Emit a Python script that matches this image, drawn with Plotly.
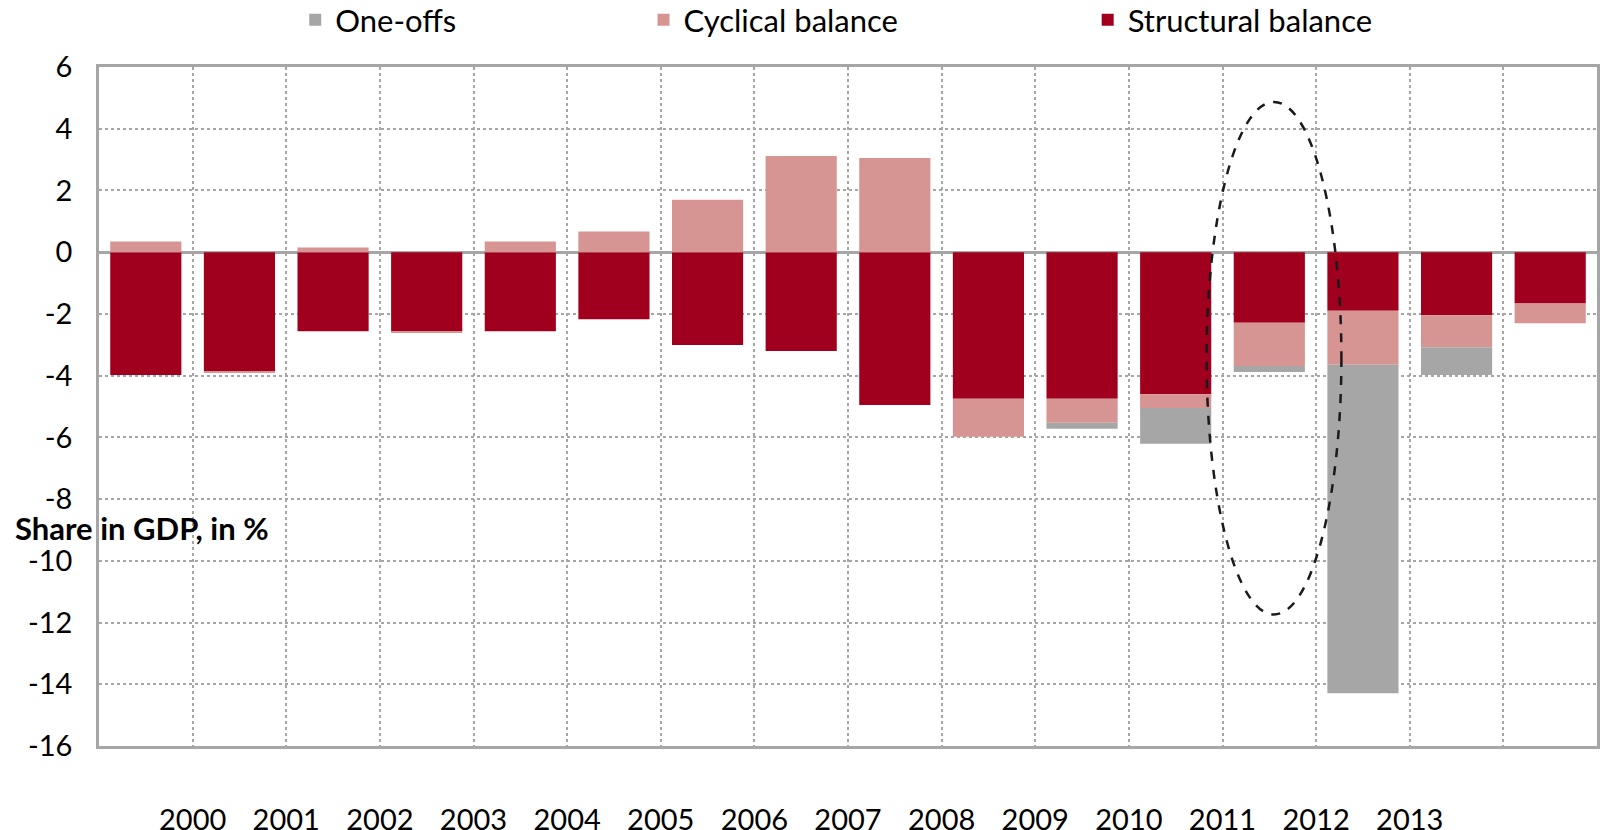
import plotly.graph_objects as go

# ---- data ----
tick_years = ["2000", "2001", "2002", "2003", "2004", "2005", "2006",
              "2007", "2008", "2009", "2010", "2011", "2012", "2013"]
y_ticks = [-16, -14, -12, -10, -8, -6, -4, -2, 0, 2, 4, 6]
structural = [-3.98, -3.85, -2.56, -2.56, -2.56, -2.17, -3.01, -3.20,
              -4.95, -4.75, -4.75, -4.60, -2.29, -1.90, -2.04, -1.66]
cyclical = [0.35, -0.05, 0.15, -0.06, 0.35, 0.67, 1.70, 3.12,
            3.05, -1.23, -0.78, -0.45, -1.40, -1.75, -1.04, -0.64]
one_offs = [0, 0, 0, 0, 0, 0, 0, 0,
            0, 0, -0.19, -1.16, -0.19, -10.64, -0.90, 0]
# highlighted region (dashed ellipse), in data units
ellipse_x = [11.83, 13.27]
ellipse_y = [-11.74, 4.87]

C_STRUCT = "#A0001E"
C_CYC = "#D69593"
C_ONE = "#A6A6A6"
GRID = "#A6A6A6"
FONT = "Lato"

n = len(structural)
xpos = [i + 0.5 for i in range(n)]

fig = go.Figure()
fig.add_trace(go.Bar(x=xpos, y=structural, name="Structural balance",
                     marker=dict(color=C_STRUCT, line_width=0),
                     legend="legend3", showlegend=True))
fig.add_trace(go.Bar(x=xpos, y=cyclical, name="Cyclical balance",
                     marker=dict(color=C_CYC, line_width=0),
                     legend="legend2", showlegend=True))
fig.add_trace(go.Bar(x=xpos, y=one_offs, name="One-offs",
                     marker=dict(color=C_ONE, line_width=0),
                     legend="legend", showlegend=True))

fig.add_shape(type="circle", xref="x", yref="y",
              x0=ellipse_x[0], x1=ellipse_x[1], y0=ellipse_y[0], y1=ellipse_y[1],
              line=dict(color="#1a1a1a", width=2.5, dash="dash"), layer="above")

fig.add_annotation(text="<b>Share in GDP, in %</b>", xref="paper", yref="y",
                   x=-0.0574, y=-8.95, xanchor="left", yanchor="middle",
                   showarrow=False, font=dict(family=FONT, size=31, color="black"))

leg_common = dict(orientation="h", yanchor="middle", y=1.069, xanchor="left",
                  font=dict(family=FONT, size=31, color="black"),
                  bgcolor="rgba(0,0,0,0)", borderwidth=0)
fig.update_layout(
    width=1600, height=830,
    margin=dict(l=99, r=3, t=67, b=84, autoexpand=False),
    plot_bgcolor="white", paper_bgcolor="white",
    barmode="relative", bargap=0.24,
    showlegend=True,
    font=dict(family=FONT, size=29, color="black"),
    legend=dict(x=0.131, **leg_common),
    legend2=dict(x=0.3635, **leg_common),
    legend3=dict(x=0.660, **leg_common),
    xaxis=dict(range=[0, n], tickmode="array",
               tickvals=list(range(1, n)),
               ticktext=tick_years + [""] * (n - 1 - len(tick_years)),
               showgrid=True, gridcolor=GRID, griddash="dot", gridwidth=1.5,
               showline=True, linecolor=GRID, linewidth=2.5, mirror=True,
               ticks="", ticklabelstandoff=46, zeroline=False, automargin=False,
               ticklabeloverflow="allow",
               tickfont=dict(family=FONT, size=29)),
    yaxis=dict(range=[-16, 6], tickmode="array", tickvals=y_ticks,
               ticktext=[str(v) for v in y_ticks],
               showgrid=True, gridcolor=GRID, griddash="dot", gridwidth=1.5,
               showline=True, linecolor=GRID, linewidth=2.5, mirror=True,
               zeroline=True, zerolinecolor=GRID, zerolinewidth=2.5,
               ticks="", ticklabelstandoff=18, automargin=False,
               ticklabeloverflow="allow",
               tickfont=dict(family=FONT, size=29)),
)

fig.write_html("out.html", config={"displayModeBar": False},
               post_script="document.body.style.margin='0';"
                           "document.body.style.overflow='hidden';")
